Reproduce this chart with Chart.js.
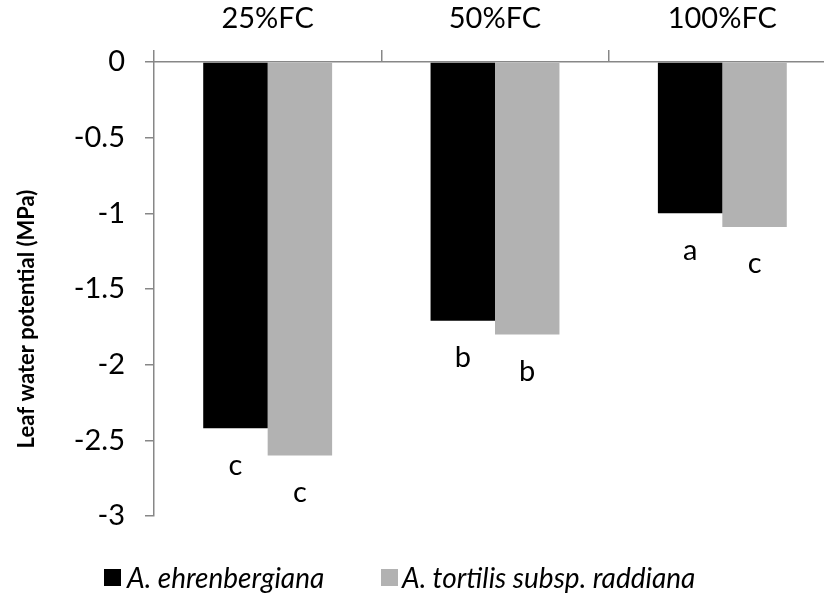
<!DOCTYPE html>
<html>
<head>
<meta charset="utf-8">
<script src="https://cdn.jsdelivr.net/npm/chart.js@4.4.0/dist/chart.umd.min.js"></script>
<style>
	html, body { margin: 0; padding: 0; background: #fff; overflow: hidden; }
	.wrap { position: relative; width: 850px; height: 596px; }
	.legend { position: absolute; top: 0; left: 0; font-family: Lato, sans-serif; font-style: italic; font-size: 28px; color: #000; }
	.legend .box { position: absolute; width: 17px; height: 17px; top: 569px; }
	.legend .txt { position: absolute; top: 560px; white-space: nowrap; line-height: normal; }
</style>
</head>
<body>
<div class="wrap">
	<canvas id="chart"></canvas>
	<div class="legend" id="legend"></div>
</div>
<script>
// categories and series
const categories = ['25%FC', '50%FC', '100%FC'];
const seriesNames = ['A. ehrenbergiana', 'A. tortilis subsp. raddiana'];
const ehrenValues = [-2.42, -1.71, -1.0];
const tortilisValues = [-2.6, -1.8, -1.09];
const ehrenLetters = ['c', 'b', 'a'];
const tortilisLetters = ['c', 'b', 'c'];
const seriesColors = ['#000000', '#b2b2b2'];
const yTitle = 'Leaf water potential (MPa)';
const yMin = -3, yMax = 0, yStep = 0.5;

const axisColor = '#878787';
const tickFont = { family: 'Lato', size: 29 };

// letters printed below each bar
const letterPlugin = {
	id: 'letters',
	afterDatasetsDraw(chart) {
		const ctx = chart.ctx;
		const letterSets = [ehrenLetters, tortilisLetters];
		ctx.save();
		ctx.font = '29px Lato';
		ctx.fillStyle = '#000';
		ctx.textAlign = 'center';
		ctx.textBaseline = 'middle';
		chart.data.datasets.forEach((ds, di) => {
			chart.getDatasetMeta(di).data.forEach((bar, i) => {
				ctx.fillText(letterSets[di][i], bar.x, bar.y + 37);
			});
		});
		ctx.restore();
	}
};

// y axis title, sits a bit below the middle of the plot like the original
const yTitlePlugin = {
	id: 'ytitle',
	afterDraw(chart) {
		const ctx = chart.ctx;
		const a = chart.chartArea;
		ctx.save();
		ctx.translate(27, (a.top + a.bottom) / 2 + 30);
		ctx.rotate(-Math.PI / 2);
		ctx.font = 'bold 22px Lato';
		ctx.fillStyle = '#000';
		ctx.textAlign = 'center';
		ctx.textBaseline = 'middle';
		ctx.fillText(yTitle, 0, 0);
		ctx.restore();
	}
};

new Chart(document.getElementById('chart'), {
	type: 'bar',
	data: {
		labels: categories,
		datasets: [
			{ label: seriesNames[0], data: ehrenValues, backgroundColor: seriesColors[0] },
			{ label: seriesNames[1], data: tortilisValues, backgroundColor: seriesColors[1] }
		]
	},
	options: {
		responsive: true,
		maintainAspectRatio: false,
		animation: false,
		layout: { padding: { left: 0, right: 14, top: 0, bottom: 80 } },
		datasets: { bar: { barPercentage: 1, categoryPercentage: 0.567 } },
		plugins: { legend: { display: false }, tooltip: { enabled: false } },
		scales: {
			x: {
				position: 'top',
				grid: { display: true, drawOnChartArea: false, drawTicks: true, tickLength: 12, color: axisColor, lineWidth: 1.5, offset: true },
				border: { display: true, color: axisColor, width: 1.5 },
				ticks: { color: '#000', font: tickFont, padding: 14, maxRotation: 0 },
				afterFit: (s) => { s.height = 62; }
			},
			y: {
				min: yMin,
				max: yMax,
				grid: { display: true, drawOnChartArea: false, drawTicks: true, tickLength: 9, color: axisColor, lineWidth: 1.5 },
				border: { display: true, color: axisColor, width: 1.5 },
				ticks: { stepSize: yStep, color: '#000', font: tickFont, padding: 20, callback: (v) => String(v) },
				title: { display: false },
				afterFit: (s) => { s.width = 154; }
			}
		}
	},
	plugins: [letterPlugin, yTitlePlugin]
});

// legend below the plot
const legendPos = [{ box: 104, text: 127 }, { box: 381, text: 402 }];
const legendEl = document.getElementById('legend');
seriesNames.forEach((name, i) => {
	legendEl.insertAdjacentHTML('beforeend',
		`<span class="box" style="left:${legendPos[i].box}px;background:${seriesColors[i]}"></span>` +
		`<span class="txt" style="left:${legendPos[i].text}px">${name}</span>`);
});
</script>
</body>
</html>
